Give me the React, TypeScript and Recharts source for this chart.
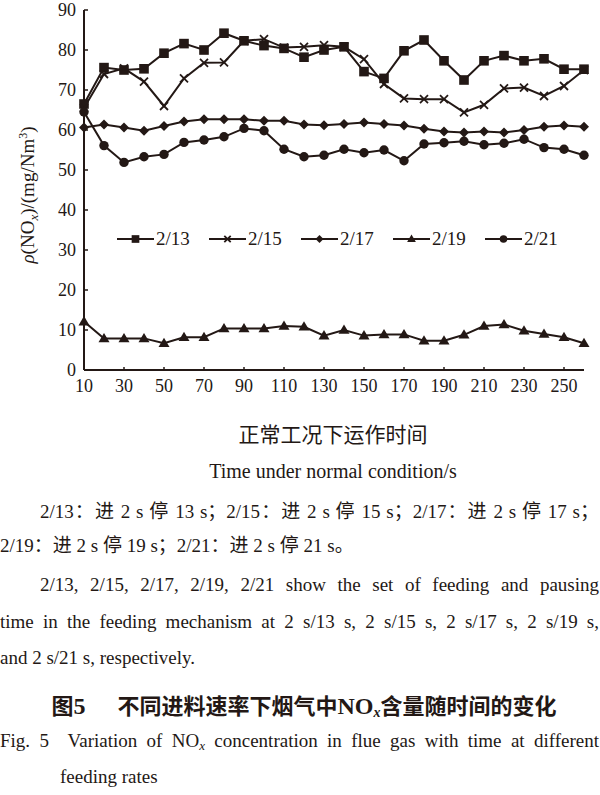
import React from 'react';
import { LineChart, Line, XAxis, YAxis, Legend } from 'recharts';

const times = [10, 20, 30, 40, 50, 60, 70, 80, 90, 100, 110, 120, 130, 140, 150, 160, 170, 180, 190, 200, 210, 220, 230, 240, 250, 260];
const s213 = [66.5, 75.6, 75.0, 75.3, 79.2, 81.6, 80.0, 84.2, 82.3, 81.1, 80.4, 78.2, 80.0, 80.8, 74.6, 72.9, 79.8, 82.5, 77.3, 72.5, 77.3, 78.6, 77.3, 77.8, 75.2, 75.2];
const s215 = [65.5, 74.0, 75.4, 72.1, 66.0, 72.9, 76.8, 76.9, 82.3, 82.7, 80.6, 80.8, 81.2, 80.8, 77.7, 71.5, 67.9, 67.7, 67.7, 64.4, 66.3, 70.4, 70.6, 68.5, 71.0, 75.0];
const s217 = [60.6, 61.4, 60.6, 59.8, 61.0, 62.1, 62.7, 62.7, 62.7, 62.3, 62.3, 61.4, 61.2, 61.5, 61.9, 61.5, 61.1, 60.3, 59.6, 59.4, 59.6, 59.4, 60.0, 60.8, 61.1, 60.8];
const s219 = [12.1, 7.9, 7.9, 7.9, 6.7, 8.2, 8.2, 10.4, 10.4, 10.4, 11.0, 10.8, 8.6, 10.0, 8.6, 8.9, 8.9, 7.3, 7.3, 8.8, 11.0, 11.4, 9.8, 9.0, 8.2, 6.7];
const s221 = [64.5, 56.1, 51.9, 53.3, 53.9, 56.9, 57.5, 58.3, 60.4, 59.8, 55.2, 53.3, 53.7, 55.2, 54.3, 55.0, 52.3, 56.5, 56.8, 57.2, 56.3, 56.7, 57.7, 55.6, 55.2, 53.7];
const seriesNames = ['2/13', '2/15', '2/17', '2/19', '2/21'];
const seriesKeys = ['s213', 's215', 's217', 's219', 's221'];
const seriesShapes = ['square', 'cross', 'diamond', 'triangle', 'circle'];
const yTicks = [0, 10, 20, 30, 40, 50, 60, 70, 80, 90];

const seriesValues = [s213, s215, s217, s219, s221];
const data = times.map((t, i) => {
  const row: any = { time: t };
  seriesKeys.forEach((k, j) => { row[k] = seriesValues[j][i]; });
  return row;
});

const INK = '#231815';
const SERIF = '"Liberation Serif", "Times New Roman", "Noto Sans CJK SC", serif';
const CJK = '"Liberation Serif", "Noto Sans CJK SC", serif';

function Marker({ type, cx, cy, s = 1 }: { type: string; cx: number; cy: number; s?: number }) {
  if (cx == null || cy == null) return null;
  switch (type) {
    case 'square': {
      const h = 4.8 * s;
      return <rect x={cx - h} y={cy - h} width={2 * h} height={2 * h} fill={INK} />;
    }
    case 'cross': {
      const h = 4 * s;
      return (
        <g stroke={INK} strokeWidth={1.8}>
          <line x1={cx - h} y1={cy - h} x2={cx + h} y2={cy + h} />
          <line x1={cx - h} y1={cy + h} x2={cx + h} y2={cy - h} />
        </g>
      );
    }
    case 'diamond': {
      const h = 5 * s;
      return <polygon points={`${cx},${cy - h} ${cx + h},${cy} ${cx},${cy + h} ${cx - h},${cy}`} fill={INK} />;
    }
    case 'triangle': {
      const w = 5.5 * s;
      const t = 5.5 * s;
      const b = 3.8 * s;
      return <polygon points={`${cx},${cy - t} ${cx + w},${cy + b} ${cx - w},${cy + b}`} fill={INK} />;
    }
    default:
      return <circle cx={cx} cy={cy} r={4.7 * s} fill={INK} />;
  }
}

function makeDot(type: string) {
  return (props: any) => <Marker key={`${type}-${props.index}`} type={type} cx={props.cx} cy={props.cy} />;
}

function LegendContent() {
  return (
    <div style={{ display: 'flex', alignItems: 'center', fontFamily: SERIF, fontSize: 19, color: INK }}>
      {seriesNames.map((n, i) => (
        <div key={n} style={{ display: 'flex', alignItems: 'center', width: i < 4 ? 92 : 80 }}>
          <svg width={37} height={14} style={{ display: 'block' }}>
            <line x1={0} y1={7} x2={37} y2={7} stroke={INK} strokeWidth={2} />
            <Marker type={seriesShapes[i]} cx={18.5} cy={7} s={0.8} />
          </svg>
          <span style={{ marginLeft: 2, lineHeight: '20px' }}>{n}</span>
        </div>
      ))}
    </div>
  );
}

function YTitle(props: any) {
  const vb = props.viewBox || { x: 0, y: 10, width: 84, height: 360 };
  const cx = vb.x + 34;
  const cy = vb.y + vb.height / 2 + 5;
  return (
    <text
      transform={`translate(${cx},${cy}) rotate(-90)`}
      textAnchor="middle"
      fontFamily={SERIF}
      fontSize={19}
      fill={INK}
    >
      <tspan fontStyle="italic">ρ</tspan>
      <tspan>(NO</tspan>
      <tspan fontStyle="italic" fontSize={13} dy={4}>x</tspan>
      <tspan dy={-4}>)/(mg/Nm</tspan>
      <tspan fontSize={12} dy={-7}>3</tspan>
      <tspan dy={7}>)</tspan>
    </text>
  );
}

const textBase: React.CSSProperties = {
  position: 'absolute',
  color: INK,
  margin: 0,
  lineHeight: '26px',
};

export default function App() {
  return (
    <div style={{ position: 'absolute', left: 0, top: 0, width: 600, height: 795, background: '#fff', overflow: 'hidden' }}>
      <LineChart width={600} height={400} data={data} margin={{ top: 10, right: 16, left: 0, bottom: 0 }}>
        <XAxis
          dataKey="time"
          height={30}
          interval={1}
          tickSize={-3}
          tickMargin={12}
          axisLine={{ stroke: INK, strokeWidth: 2 }}
          tickLine={{ stroke: INK, strokeWidth: 1.5 }}
          tick={{ fill: INK, fontSize: 18, fontFamily: SERIF }}
        />
        <YAxis
          type="number"
          domain={[0, 90]}
          ticks={yTicks}
          interval={0}
          width={84}
          tickSize={-4}
          tickMargin={12}
          axisLine={{ stroke: INK, strokeWidth: 2 }}
          tickLine={{ stroke: INK, strokeWidth: 1.5 }}
          tick={{ fill: INK, fontSize: 18, fontFamily: SERIF }}
          label={<YTitle />}
        />
        <Legend
          layout="horizontal"
          verticalAlign="middle"
          align="center"
          content={<LegendContent />}
          wrapperStyle={{ position: 'absolute', left: 117, top: 229, width: 470, height: 22 }}
        />
        {seriesKeys.map((k, i) => (
          <Line
            key={k}
            dataKey={k}
            name={seriesNames[i]}
            stroke={INK}
            strokeWidth={2}
            dot={makeDot(seriesShapes[i])}
            activeDot={false}
            isAnimationActive={false}
          />
        ))}
      </LineChart>

      <div style={{ ...textBase, top: 422, left: 0, width: 666, textAlign: 'center', fontFamily: CJK, fontSize: 21 }}>
        正常工况下运作时间
      </div>
      <div style={{ ...textBase, top: 458, left: 0, width: 666, textAlign: 'center', fontFamily: SERIF, fontSize: 20 }}>
        Time under normal condition/s
      </div>

      <div style={{ ...textBase, top: 499, left: 40, width: 559, fontFamily: CJK, fontSize: 19, textAlign: 'justify', textAlignLast: 'justify' }}>
        2/13：进 2 s 停 13 s；2/15：进 2 s 停 15 s；2/17：进 2 s 停 17 s；
      </div>
      <div style={{ ...textBase, top: 533, left: 0, width: 600, fontFamily: CJK, fontSize: 19 }}>
        2/19：进 2 s 停 19 s；2/21：进 2 s 停 21 s。
      </div>

      <div style={{ ...textBase, top: 572, left: 40, width: 559, fontFamily: SERIF, fontSize: 19, textAlign: 'justify', textAlignLast: 'justify' }}>
        2/13, 2/15, 2/17, 2/19, 2/21 show the set of feeding and pausing
      </div>
      <div style={{ ...textBase, top: 609, left: 0, width: 599, fontFamily: SERIF, fontSize: 19, textAlign: 'justify', textAlignLast: 'justify' }}>
        time in the feeding mechanism at 2 s/13 s, 2 s/15 s, 2 s/17 s, 2 s/19 s,
      </div>
      <div style={{ ...textBase, top: 645, left: 0, width: 600, fontFamily: SERIF, fontSize: 19 }}>
        and 2 s/21 s, respectively.
      </div>

      <div style={{ ...textBase, top: 691, left: 0, width: 608, textAlign: 'center', fontFamily: '"Noto Sans CJK SC", sans-serif', fontWeight: 700, fontSize: 22 }}>
        图<span style={{ fontFamily: SERIF, fontSize: 24 }}>5</span>
        <span style={{ display: 'inline-block', width: 32 }} />
        不同进料速率下烟气中<span style={{ fontFamily: SERIF, fontSize: 24 }}>NO</span>
        <span style={{ fontFamily: SERIF, fontStyle: 'italic', fontSize: 14, verticalAlign: '-3px' }}>x</span>
        含量随时间的变化
      </div>

      <div style={{ ...textBase, top: 728, left: 0, width: 599, fontFamily: SERIF, fontSize: 19, textAlign: 'justify', textAlignLast: 'justify' }}>
        Fig. 5&nbsp;&nbsp;Variation of NO<span style={{ fontStyle: 'italic', fontSize: 13, verticalAlign: '-3px' }}>x</span> concentration in flue gas with time at different
      </div>
      <div style={{ ...textBase, top: 764, left: 60, width: 540, fontFamily: SERIF, fontSize: 19 }}>
        feeding rates
      </div>
    </div>
  );
}
